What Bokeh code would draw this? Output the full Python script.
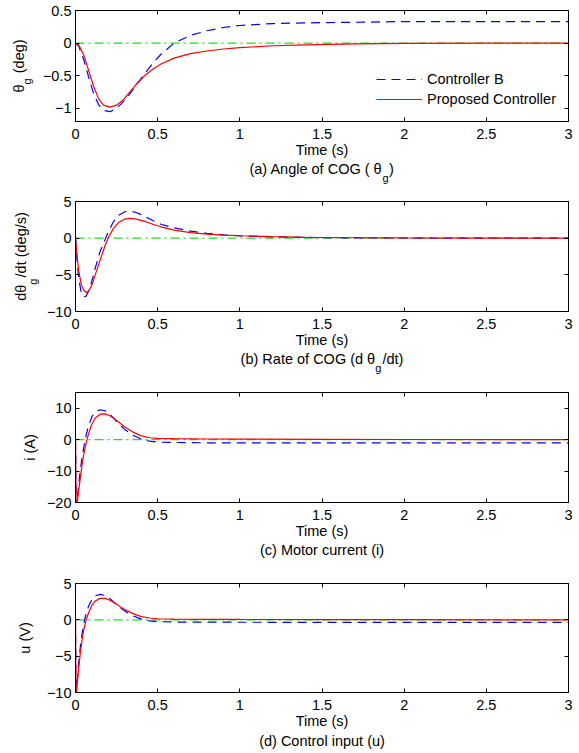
import math
from bokeh.plotting import figure
from bokeh.layouts import column
from bokeh.models import Label, LinearAxis, FixedTicker, Range1d, Legend, LegendItem
from bokeh.embed import file_html
from bokeh.resources import INLINE

# ---------------- data ----------------
t_theta = [0, 0.02, 0.05, 0.08, 0.11, 0.14, 0.17, 0.21, 0.25, 0.29, 0.33, 0.37, 0.42,
           0.47, 0.52, 0.6, 0.7, 0.8, 0.9, 1.0, 1.2, 1.4, 1.7, 2.0, 2.5, 3.0]
theta_ctrl_b = [0, -0.05, -0.25, -0.52, -0.77, -0.94, -1.03, -1.05, -1.0, -0.9, -0.78, -0.64, -0.47,
                -0.31, -0.17, 0.0, 0.12, 0.19, 0.24, 0.27, 0.30, 0.31, 0.32, 0.33, 0.33, 0.33]
theta_proposed = [0, -0.03, -0.18, -0.42, -0.66, -0.85, -0.95, -0.98, -0.95, -0.87, -0.75, -0.63, -0.5,
                  -0.4, -0.32, -0.23, -0.16, -0.12, -0.09, -0.07, -0.04, -0.025, -0.012, -0.005, -0.001, 0]

t_rate = [0, 0.01, 0.02, 0.035, 0.05, 0.065, 0.08, 0.1, 0.12, 0.15, 0.18, 0.2, 0.23, 0.26, 0.3,
          0.33, 0.37, 0.42, 0.47, 0.52, 0.6, 0.7, 0.8, 0.9, 1.0, 1.2, 1.4, 1.7, 2.0, 2.5, 3.0]
rate_ctrl_b = [0, -3.2, -5.6, -7.4, -8.0, -7.9, -7.2, -5.8, -4.1, -1.8, -0.2, 0.9, 2.2, 3.1, 3.6,
               3.7, 3.5, 3.0, 2.4, 1.9, 1.4, 0.95, 0.65, 0.45, 0.32, 0.18, 0.1, 0.04, 0.02, 0.0, 0.0]
rate_proposed = [0, -2.5, -4.5, -6.3, -7.1, -7.4, -7.2, -6.4, -5.0, -3.0, -1.0, 0.1, 1.3, 2.1, 2.6,
                 2.7, 2.6, 2.3, 1.9, 1.55, 1.1, 0.75, 0.55, 0.42, 0.33, 0.2, 0.12, 0.06, 0.03, 0.01, 0.0]

t_current = [0, 0.004, 0.01, 0.02, 0.03, 0.04, 0.05, 0.065, 0.08, 0.1, 0.12, 0.15, 0.18, 0.21,
             0.24, 0.27, 0.3, 0.35, 0.4, 0.45, 0.5, 0.6, 0.8, 1.0, 1.5, 2.0, 3.0]
current_ctrl_b = [0, -21, -19, -14, -9.5, -5.5, -2.5, 1.5, 4.5, 7.3, 8.8, 9.5, 9.2, 8.0,
                  6.4, 4.7, 3.2, 1.4, 0.2, -0.5, -0.8, -0.9, -1.0, -1.0, -1.05, -1.05, -1.05]
current_proposed = [0, -21, -20, -16, -12, -8, -4.8, -1.0, 2.0, 5.0, 6.9, 8.1, 8.2, 7.6,
                    6.5, 5.3, 4.0, 2.4, 1.2, 0.6, 0.4, 0.3, 0.2, 0.15, 0.08, 0.04, 0.0]

t_input = [0, 0.003, 0.01, 0.02, 0.03, 0.04, 0.05, 0.065, 0.08, 0.1, 0.12, 0.15, 0.18, 0.21,
           0.24, 0.27, 0.3, 0.35, 0.4, 0.45, 0.5, 0.6, 0.8, 1.0, 1.5, 2.0, 3.0]
input_ctrl_b = [0, -10.5, -8.5, -5.8, -3.6, -1.9, -0.6, 0.9, 1.9, 2.8, 3.3, 3.5, 3.35, 2.9,
                2.3, 1.7, 1.2, 0.55, 0.1, -0.15, -0.25, -0.3, -0.32, -0.33, -0.35, -0.35, -0.35]
input_proposed = [0, -10.5, -9.0, -6.5, -4.5, -2.8, -1.4, 0.0, 1.0, 2.0, 2.6, 2.95, 2.95, 2.7,
                  2.3, 1.85, 1.4, 0.85, 0.45, 0.25, 0.15, 0.1, 0.07, 0.05, 0.03, 0.02, 0.0]

ref_t = [0, 3]
ref_zero = [0, 0]

x_ticks = [0, 0.5, 1, 1.5, 2, 2.5, 3]
x_tick_labels = ["0", "0.5", "1", "1.5", "2", "2.5", "3"]
x_label = "Time (s)"

theta_ticks = [-1, -0.5, 0, 0.5]
theta_tick_labels = ["\u22121", "\u22120.5", "0", "0.5"]
rate_ticks = [-10, -5, 0, 5]
rate_tick_labels = ["\u221210", "\u22125", "0", "5"]
current_ticks = [-20, -10, 0, 10]
current_tick_labels = ["\u221220", "\u221210", "0", "10"]
input_ticks = [-10, -5, 0, 5]
input_tick_labels = ["\u221210", "\u22125", "0", "5"]

legend_labels = ["Controller B", "Proposed Controller"]

# label texts: (before subscript, subscript, after subscript)
theta_ylabel = ("θ", "g", " (deg)")
rate_ylabel = ("dθ", "g", "/dt (deg/s)")
current_ylabel = ("i (A)", "", "")
input_ylabel = ("u (V)", "", "")
theta_caption = ("(a) Angle of COG ( θ", "g", ")")
rate_caption = ("(b) Rate of COG (d θ", "g", "/dt)")
current_caption = ("(c) Motor current (i)", "", "")
input_caption = ("(d) Control input (u)", "", "")

# ---------------- styling / layout ----------------
FONT = "Liberation Sans"
FS = 14.5
SUB_FS = 11
GAP = "\u2002"          # en space leaves room for the subscript
LEFT, FW, RIGHT_B = 75, 493, 11
X0, X1 = 0, 3
BLUE, RED, GREEN = "#0000ff", "#ff0000", "#22dd22"
XTICK_STANDOFF, XLABEL_STANDOFF = 7, 0

CW = {'θ': 0.556, 'g': 0.556, ' ': 0.278, '(': 0.333, ')': 0.333, 'd': 0.556, 'e': 0.556,
      '/': 0.278, 't': 0.278, 's': 0.5, 'i': 0.222, 'A': 0.667, 'u': 0.556, 'V': 0.667,
      'a': 0.556, 'b': 0.556, 'c': 0.5, 'n': 0.556, 'l': 0.222, 'o': 0.556, 'f': 0.278,
      'C': 0.722, 'O': 0.778, 'G': 0.778, 'R': 0.722, 'M': 0.833, 'r': 0.333, 'p': 0.556,
      'm': 0.833, 'T': 0.611, GAP: 0.5}


def text_w(s, fs=FS):
    return sum(CW.get(ch, 0.556) for ch in s) * fs


def joined(parts):
    a, sub, b = parts
    return a + (GAP if sub else "") + b


def make_panel(t, yb, yp, yrange, yticks, ytl, ylabel, ylab_standoff, caption, cap_standoff,
               height, top, frame_h, bottom, legend=False):
    y0, y1 = yrange
    p = figure(width=579, height=height, x_range=Range1d(X0, X1), y_range=Range1d(y0, y1),
               output_backend="svg", toolbar_location=None,
               min_border_left=LEFT, min_border_right=RIGHT_B,
               min_border_top=top, min_border_bottom=bottom,
               background_fill_color="white", border_fill_color="white",
               outline_line_color="black", outline_line_width=1)
    p.grid.visible = False

    xa = p.xaxis[0]
    xa.ticker = FixedTicker(ticks=x_ticks)
    xa.major_label_overrides = dict(zip(x_ticks, x_tick_labels))
    xa.axis_label = x_label
    ya = p.yaxis[0]
    ya.ticker = FixedTicker(ticks=yticks)
    ya.major_label_overrides = dict(zip(yticks, ytl))
    ya.axis_label = joined(ylabel)
    # caption drawn as the label of a second, tick-less bottom axis
    ca = LinearAxis(ticker=FixedTicker(ticks=[]), axis_line_color=None,
                    major_tick_line_color=None, minor_tick_line_color=None,
                    major_label_text_font_size="0px", major_label_standoff=0,
                    axis_label=joined(caption), axis_label_standoff=cap_standoff)
    p.add_layout(ca, "below")
    for ax in (xa, ya, ca):
        ax.major_tick_in = 4
        ax.major_tick_out = 0
        ax.minor_tick_line_color = None
        ax.major_label_text_font = FONT
        ax.major_label_text_color = "black"
        ax.axis_label_text_font = FONT
        ax.axis_label_text_font_size = f"{FS}px"
        ax.axis_label_text_font_style = "normal"
        ax.axis_label_text_color = "black"
    for ax in (xa, ya):
        ax.axis_line_color = "black"
        ax.major_tick_line_color = "black"
        ax.major_label_text_font_size = f"{FS}px"
    xa.major_label_standoff = XTICK_STANDOFF
    xa.axis_label_standoff = XLABEL_STANDOFF
    ya.major_label_standoff = 4
    ya.axis_label_standoff = ylab_standoff

    for ticks, side in ((x_ticks, "above"), (yticks, "right")):
        ax = LinearAxis(ticker=FixedTicker(ticks=ticks),
                        major_label_overrides={v: "" for v in ticks},
                        major_label_text_font_size="0px", major_label_standoff=0,
                        major_tick_in=4, major_tick_out=0,
                        minor_tick_line_color=None, axis_line_color="black",
                        major_tick_line_color="black")
        p.add_layout(ax, side)

    p.line(ref_t, ref_zero, line_color=GREEN, line_width=1.2, line_dash="9 4 2 4")
    rb = p.line(t, yb, line_color=BLUE, line_width=1.2, line_dash="9 6")
    rp = p.line(t, yp, line_color=RED, line_width=1.2)

    if legend:
        lg = Legend(items=[LegendItem(label=legend_labels[0], renderers=[rb]),
                           LegendItem(label=legend_labels[1], renderers=[rp])],
                    location=(301, 12), orientation="vertical",
                    padding=0, margin=0, spacing=0, glyph_width=46, glyph_height=20,
                    label_height=20, label_standoff=5,
                    label_text_font=FONT, label_text_font_size=f"{FS}px",
                    label_text_color="black",
                    border_line_alpha=0, background_fill_alpha=0)
        p.add_layout(lg)

    # subscripts (canvas coordinates of this figure)
    if ylabel[1]:
        total = text_w(joined(ylabel))
        mid = top + frame_h / 2
        sy = mid + total / 2 - text_w(ylabel[0])
        base_x = LEFT - 4 - max(text_w(s) for s in ytl) - ylab_standoff - 0.212 * FS
        p.add_layout(Label(x=base_x + 4, y=sy, x_units="canvas", y_units="canvas",
                           text=ylabel[1], angle=math.pi / 2, text_align="left",
                           text_baseline="alphabetic", text_font=FONT,
                           text_font_size=f"{SUB_FS}px", text_color="black"), "above")
    if caption[1]:
        total = text_w(joined(caption))
        sx = LEFT + FW / 2 - total / 2 + text_w(caption[0])
        base_y = (top + frame_h + XTICK_STANDOFF + 1.117 * FS + XLABEL_STANDOFF
                  + 1.117 * FS + cap_standoff + 0.905 * FS)
        p.add_layout(Label(x=sx, y=base_y + 4, x_units="canvas", y_units="canvas",
                           text=caption[1], text_align="left",
                           text_baseline="alphabetic", text_font=FONT,
                           text_font_size=f"{SUB_FS}px", text_color="black"), "right")
    return p


p1 = make_panel(t_theta, theta_ctrl_b, theta_proposed, (-1.2, 0.5), theta_ticks, theta_tick_labels,
                theta_ylabel, 13, theta_caption, 0, 190, 10, 111, 69, legend=True)
p2 = make_panel(t_rate, rate_ctrl_b, rate_proposed, (-10, 5), rate_ticks, rate_tick_labels,
                rate_ylabel, 15, rate_caption, 0, 191, 11, 110, 70)
p3 = make_panel(t_current, current_ctrl_b, current_proposed, (-20, 15), current_ticks,
                current_tick_labels, current_ylabel, 6, current_caption, 0, 191, 11, 110, 70)
p4 = make_panel(t_input, input_ctrl_b, input_proposed, (-10, 5), input_ticks, input_tick_labels,
                input_ylabel, 11, input_caption, 1, 181, 11, 109, 61)

layout = column(p1, p2, p3, p4, spacing=0)
open("out.html", "w").write(file_html(layout, INLINE))
